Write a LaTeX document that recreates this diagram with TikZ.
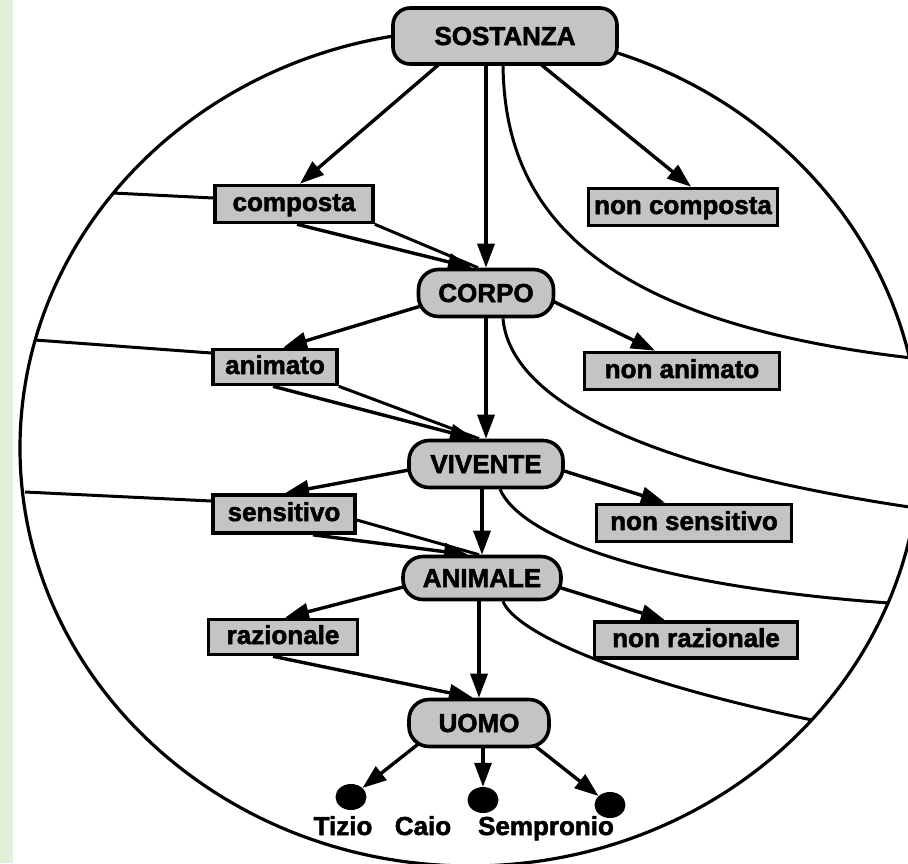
\documentclass[tikz,border=0pt]{standalone}
\usepackage{fontspec}
\setmainfont{Liberation Sans}
\newfontfamily\heavyfont{Liberation Sans}[BoldFeatures={FakeBold=2}]
\usetikzlibrary{arrows.meta,shapes.geometric}
\pgfdeclarelayer{background}
\pgfsetlayers{background,main}
\definecolor{stripgreen}{RGB}{226,239,217}
\definecolor{boxgray}{RGB}{196,196,196}
\tikzset{
  treefont/.style={font=\heavyfont\fontsize{26}{26}\selectfont\bfseries},
  lbl/.style={treefont, inner sep=0pt, anchor=base},
  genus/.style={draw, line width=3.6pt, fill=boxgray, rounded corners=20pt,
    minimum height=47pt, inner sep=0pt, text height=19pt, text depth=1pt, treefont},
  diff/.style={draw, line width=3.6pt, fill=boxgray, minimum height=37pt,
    inner sep=0pt, text height=19pt, text depth=5pt, treefont},
  arr/.style={line width=3.4pt, -{Triangle[length=24pt,width=17pt]}},
  cut/.style={line width=3pt},
  leaf/.style={ellipse, fill=black, minimum width=31pt, minimum height=26pt, inner sep=0pt},
}
\begin{document}
\begin{tikzpicture}[x=1pt,y=-1pt]
\useasboundingbox (0,0) rectangle (908,863);
\clip (0,0) rectangle (908,863);

% genera (rounded) and differentiae (square boxes)
\node[genus, minimum width=224pt, minimum height=56pt, rounded corners=17pt] (sost) at (505,36) {SOSTANZA};
\node[genus, minimum width=135pt] (corpo) at (486,293) {CORPO};
\node[genus, minimum width=154pt] (viv) at (486,464) {VIVENTE};
\node[genus, minimum width=158pt, minimum height=43pt] (anim) at (482,578) {ANIMALE};
\node[genus, minimum width=140pt] (uomo) at (479,723) {UOMO};

\node[diff, minimum width=158pt] (comp) at (294,204) {composta};
\node[diff, minimum width=189pt] (ncomp) at (683,207) {non composta};
\node[diff, minimum width=124pt, minimum height=35pt] (anm) at (275,367) {animato};
\node[diff, minimum width=195pt] (nanm) at (682,371) {non animato};
\node[diff, minimum width=142pt, minimum height=38pt] (sens) at (284,514) {sensitivo};
\node[diff, minimum width=195pt] (nsens) at (694,523) {non sensitivo};
\node[diff, minimum width=149pt, minimum height=35pt] (raz) at (283,637) {razionale};
\node[diff, minimum width=203pt, minimum height=36pt] (nraz) at (696,640) {non razionale};

% individuals
\node[leaf] (tizio) at (351,797) {};
\node[leaf] (caio) at (483,800) {};
\node[leaf] (semp) at (610,805) {};
\node[lbl] (ltizio) at (343,835) {Tizio};
\node[lbl] (lcaio) at (423,835) {Caio};
\node[lbl] (lsemp) at (546,835) {Sempronio};

% points where the dividing lines meet the outer ellipse
\coordinate (eA) at (113,193);
\coordinate (eB) at (35,340);
\coordinate (eC) at (25,492);
\coordinate (eD) at (912,358);
\coordinate (eE) at (916,508);
\coordinate (eF) at (889,603);
\coordinate (eG) at (812,720);

\begin{pgfonlayer}{background}
  \fill[white] (0,0) rectangle (908,863);
  \fill[stripgreen] (0,0) rectangle (13,863);
  \draw[line width=3.2pt] (470,448) ellipse [x radius=450pt, y radius=418pt];

  % dividing lines, left side
  \draw[cut] (eA) -- ([yshift=6pt]comp.west);
  \draw[cut] (eB) -- ([yshift=14pt]anm.west);
  \draw[cut] (eC) -- ([yshift=13pt]sens.west);
  \draw[cut] (comp.south east) -- ([xshift=-8pt]corpo.north);
  \draw[cut] (anm.south east) -- ([xshift=-7pt]viv.north);
  \draw[cut] ([yshift=-6pt]sens.east) -- ([xshift=-3pt]anim.north);

  % dividing lines, right side
  \draw[cut] ([xshift=-2pt]sost.south) .. controls (505,200) and (580,320) .. (eD);
  \draw[cut] ([xshift=17pt]corpo.south) .. controls (508,380) and (590,460) .. (eE);
  \draw[cut] ([xshift=14pt]viv.south) .. controls (520,535) and (640,585) .. (eF);
  \draw[cut] ([xshift=21pt]anim.south) .. controls (515,632) and (620,680) .. (eG);

  % tree arrows
  \draw[arr] ([xshift=-33pt]sost.center) -- ([xshift=6pt]comp.north);
  \draw[arr] ([xshift=1pt]sost.center) -- ([xshift=8pt]ncomp.north);
  \draw[arr] (corpo.north |- sost.center) -- (corpo.north);
  \draw[arr] ([xshift=3pt]comp.south) -- ([xshift=-14pt]corpo.north);

  \draw[arr] ([xshift=-22pt]corpo.center) -- ([xshift=8pt]anm.north);
  \draw[arr] ([xshift=50pt]corpo.center) -- ([xshift=-27pt]nanm.north);
  \draw[arr] (viv.north |- corpo.center) -- (viv.north);
  \draw[arr] ([xshift=-2pt]anm.south) -- ([xshift=-12pt]viv.north);

  \draw[arr] ([xshift=-45pt]viv.center) -- ([xshift=1pt]sens.north);
  \draw[arr] ([xshift=56pt]viv.center) -- ([xshift=-29pt]nsens.north);
  \draw[arr] (anim.north |- viv.center) -- (anim.north);
  \draw[arr] ([xshift=29pt]sens.south) -- ([xshift=-14pt]anim.north);

  \draw[arr] ([xshift=-44pt]anim.center) -- ([xshift=2pt]raz.north);
  \draw[arr] ([xshift=47pt]anim.center) -- ([xshift=-31pt]nraz.north);
  \draw[arr] (uomo.north |- anim.center) -- (uomo.north);
  \draw[arr] ([xshift=-10pt]raz.south) -- ([xshift=-6pt]uomo.north);

  \draw[arr] ([xshift=-34pt]uomo.center) -- (tizio);
  \draw[arr] (caio |- uomo.center) -- (caio);
  \draw[arr] ([xshift=27pt]uomo.center) -- (semp);
\end{pgfonlayer}
\end{tikzpicture}
\end{document}
